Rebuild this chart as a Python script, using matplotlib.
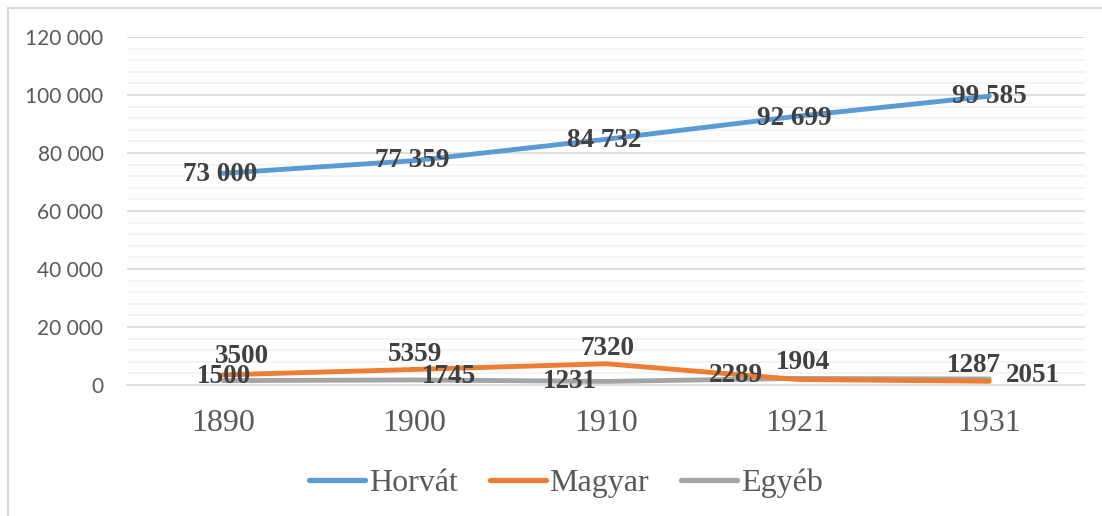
from matplotlib import pyplot as plt
from matplotlib.ticker import MultipleLocator, FuncFormatter
import numpy as np

years = ["1890", "1900", "1910", "1921", "1931"]
horvat = [73000, 77359, 84732, 92699, 99585]
magyar = [3500, 5359, 7320, 1904, 1287]
egyeb = [1500, 1745, 1231, 2289, 2051]
series_names = ["Horvát", "Magyar", "Egyéb"]

colors_picker = ["#5b9bd5", "#ed7d31", "#a5a5a5"]

# label offsets (pixels) relative to each point
horvat_offsets = [(-3, -1), (-2, 0), (-2, -1), (-3, -2), (0, 0)]
magyar_offsets = [(19, 18), (1, 15), (2, 15), (5, 17), (-15, 16)]
egyeb_offsets = [(1, 4), (35, 3), (-36, 0), (-62, 3), (44, 4)]


def fmt_thousands(v, pos=None):
    return "{:,}".format(int(v)).replace(",", " ")


fig = plt.figure(figsize=(11.02, 5.16), dpi=100)
ax = fig.add_axes([127 / 1102, 1 - 385 / 516, 958 / 1102, 348 / 516])

x = np.arange(len(years))
all_series = [horvat, magyar, egyeb]
for idx, vals in enumerate(all_series):
    ax.plot(x, vals, color=colors_picker[idx], linewidth=3.5,
            solid_capstyle='round', solid_joinstyle='round',
            label=series_names[idx], zorder=3 + (2 - idx) * 0.1)

# data labels
for a, b, off in zip(x, horvat, horvat_offsets):
    ax.annotate(fmt_thousands(b), (a, b), xytext=off, textcoords='offset pixels',
                ha='center', va='center', fontsize=19.5, fontweight='bold',
                family='Liberation Serif', color='#404040', zorder=5)
for a, b, off in zip(x, magyar, magyar_offsets):
    ax.annotate(str(b), (a, b), xytext=off, textcoords='offset pixels',
                ha='center', va='center', fontsize=19.5, fontweight='bold',
                family='Liberation Serif', color='#404040', zorder=5)
for a, b, off in zip(x, egyeb, egyeb_offsets):
    ax.annotate(str(b), (a, b), xytext=off, textcoords='offset pixels',
                ha='center', va='center', fontsize=19.5, fontweight='bold',
                family='Liberation Serif', color='#404040', zorder=5)

ax.set_xlim(-0.5, len(years) - 0.5)
ax.set_ylim(0, 120000)
ax.yaxis.set_major_locator(MultipleLocator(20000))
ax.yaxis.set_minor_locator(MultipleLocator(4000))
ax.yaxis.set_major_formatter(FuncFormatter(fmt_thousands))
ax.grid(which='minor', axis='y', color='#f2f2f2', linewidth=1.2, zorder=0)
ax.grid(which='major', axis='y', color='#d9d9d9', linewidth=1.2, zorder=1)
ax.set_axisbelow(True)

ax.set_xticks(x)
ax.set_xticklabels(years, family='Liberation Serif', fontsize=23, color='#595959')
for lbl in ax.get_yticklabels():
    lbl.set_family('Lato')
    lbl.set_fontsize(15)
    lbl.set_color('#595959')
ax.tick_params(axis='both', which='both', length=0)
ax.tick_params(axis='x', pad=17)
ax.tick_params(axis='y', pad=17)

for side in ['top', 'right', 'left']:
    ax.spines[side].set_visible(False)
ax.spines['bottom'].set_color('#d9d9d9')
ax.spines['bottom'].set_linewidth(1.2)

leg = fig.legend(loc='center', bbox_to_anchor=(566 / 1102, 1 - 483 / 516), ncol=3,
                 frameon=False, handlelength=1.75, handletextpad=0.12, columnspacing=1.0,
                 prop={'family': 'Liberation Serif', 'size': 23})
for t in leg.get_texts():
    t.set_color('#595959')
for h in leg.get_lines():
    h.set_linewidth(3.8)
    h.set_solid_capstyle('round')

# outer chart frame (only left/top visible in the crop)
fig.add_artist(plt.Line2D([8 / 1102, 8 / 1102], [0, 1 - 8 / 516], color='#d9d9d9', linewidth=1.5))
fig.add_artist(plt.Line2D([8 / 1102, 1], [1 - 8 / 516, 1 - 8 / 516], color='#d9d9d9', linewidth=1.5))

plt.savefig('out.png', dpi=100)
